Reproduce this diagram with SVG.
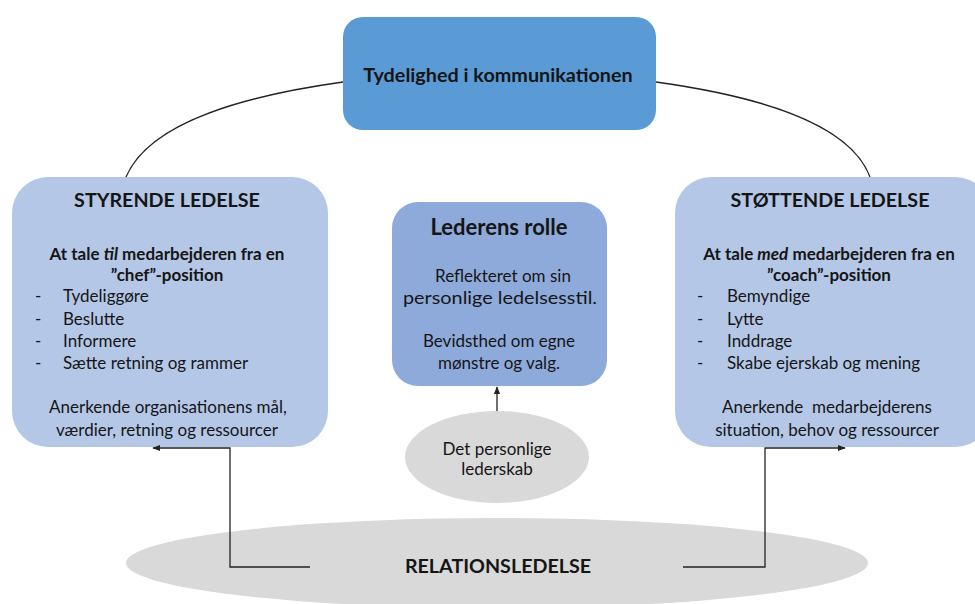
<svg xmlns="http://www.w3.org/2000/svg" width="975" height="604" viewBox="0 0 975 604">
<defs>
<style>
text{font-family:Lato,"Open Sans","Liberation Sans",sans-serif;fill:#151515;}
.t{font-size:17px;}
.b{font-weight:bold;}
.h{font-size:19.7px;font-weight:bold;}
.c{text-anchor:middle;}
.line{fill:none;stroke:#222;stroke-width:1.3;}
</style>
<marker id="ah" viewBox="0 0 10 10" refX="9" refY="5" markerWidth="8" markerHeight="8" orient="auto" markerUnits="userSpaceOnUse">
<path d="M0,1 L10,5 L0,9 z" fill="#222"/>
</marker>
</defs>
<rect width="975" height="604" fill="#fff"/>

<g id="relationsledelse">
<ellipse cx="497" cy="563" rx="371" ry="45" fill="#d9d9d9"/>
<text class="h c" x="498" y="573">RELATIONSLEDELSE</text>
</g>

<g id="tydelighed">
<rect x="343" y="17" width="313" height="113" rx="20" fill="#5b9bd5"/>
<text class="c b" x="498" y="82" style="font-size:19.8px">Tydelighed i kommunikationen</text>
</g>

<g id="styrende">
<rect x="12" y="177" width="316" height="270" rx="36" fill="#b4c7e7"/>
<text class="h c" x="167" y="207">STYRENDE LEDELSE</text>
<text class="t b c" x="167" y="260">At tale <tspan font-style="italic">til</tspan> medarbejderen fra en</text>
<text class="t b c" x="167" y="281">”chef”-position</text>
<text class="t" x="35" y="302">-</text><text class="t" x="63" y="302">Tydeliggøre</text>
<text class="t" x="35" y="325">-</text><text class="t" x="63" y="325">Beslutte</text>
<text class="t" x="35" y="347">-</text><text class="t" x="63" y="347">Informere</text>
<text class="t" x="35" y="369">-</text><text class="t" x="63" y="369">Sætte retning og rammer</text>
<text class="t c" x="168" y="413">Anerkende organisationens mål,</text>
<text class="t c" x="167" y="436">værdier, retning og ressourcer</text>
</g>

<g id="stottende">
<rect x="675" y="177" width="316" height="270" rx="36" fill="#b4c7e7"/>
<text class="h c" x="830" y="207">STØTTENDE LEDELSE</text>
<text class="t b c" x="829" y="260">At tale <tspan font-style="italic">med</tspan> medarbejderen fra en</text>
<text class="t b c" x="829" y="281">”coach”-position</text>
<text class="t" x="697" y="302">-</text><text class="t" x="727" y="302">Bemyndige</text>
<text class="t" x="697" y="325">-</text><text class="t" x="727" y="325">Lytte</text>
<text class="t" x="697" y="347">-</text><text class="t" x="727" y="347">Inddrage</text>
<text class="t" x="697" y="369">-</text><text class="t" x="727" y="369">Skabe ejerskab og mening</text>
<text class="t c" x="827" y="413" xml:space="preserve">Anerkende  medarbejderens</text>
<text class="t c" x="827" y="436">situation, behov og ressourcer</text>
</g>

<g id="lederens-rolle">
<rect x="392" y="202" width="215" height="184" rx="26" fill="#8eaadb"/>
<text class="c b" x="499" y="235" style="font-size:22px">Lederens rolle</text>
<text class="t c" x="503" y="282">Reflekteret om sin</text>
<text class="t c" x="500" y="304" textLength="194" lengthAdjust="spacingAndGlyphs">personlige ledelsesstil.</text>
<text class="t c" x="499" y="347">Bevidsthed om egne</text>
<text class="t c" x="499" y="369">mønstre og valg.</text>
</g>

<g id="personlige-lederskab">
<ellipse cx="497" cy="457" rx="92" ry="46" fill="#d9d9d9"/>
<text class="t c" x="497" y="455">Det personlige</text>
<text class="t c" x="497" y="475">lederskab</text>
</g>

<g id="connectors">
<path class="line" d="M343,82 C250,95 150,120 126,177"/>
<path class="line" d="M656,82 C749,95 849,120 870,177"/>
<path class="line" d="M497,411 L497,387" marker-end="url(#ah)"/>
<path class="line" d="M310,567 L230,567 L230,448 L153,448" marker-end="url(#ah)"/>
<path class="line" d="M683,567 L765,567 L765,448 L845,448" marker-end="url(#ah)"/>
</g>
</svg>
